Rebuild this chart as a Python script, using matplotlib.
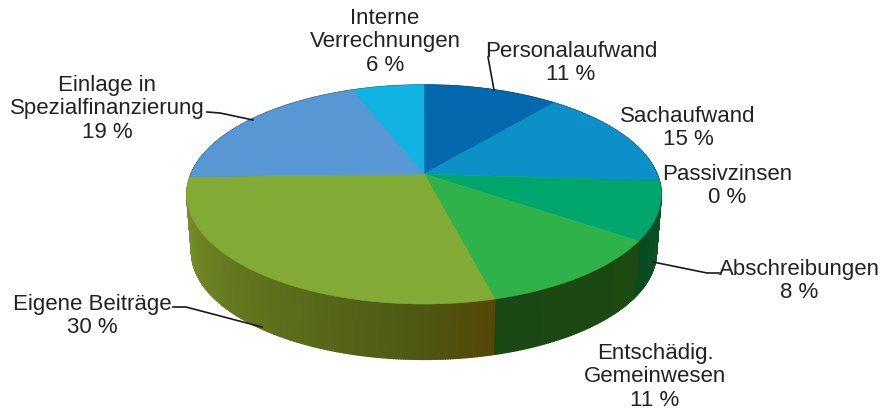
import numpy as np
import matplotlib
matplotlib.use("Agg")
import matplotlib.pyplot as plt
from matplotlib.colors import to_rgb

plt.rcParams['font.family'] = ['Liberation Sans', 'DejaVu Sans']

# data: label text plus the slice shares as they appear in the picture
labels = ["Personalaufwand\n11 %", "Sachaufwand\n15 %", "Passivzinsen\n0 %",
          "Abschreibungen\n8 %", "Entschädig.\nGemeinwesen\n11 %", "Eigene Beiträge\n30 %",
          "Einlage in\nSpezialfinanzierung\n19 %", "Interne\nVerrechnungen\n6 %"]
shares = [11.0, 15.0, 0.0, 8.6, 11.4, 28.6, 19.6, 5.8]
top_colors = ["#0468AE", "#0B90C8", "#00A66B", "#00A66B", "#2FB24A", "#82AA35", "#5797D3", "#10B4E2"]
# side wall colours along each slice, clockwise, with their relative positions
side_stops = [["#03406A", "#03406A"], ["#06506E", "#06506E"], ["#0A5A30", "#0A5A30"],
              ["#0A5A2C", "#0A4A20"], ["#1C4A10", "#1A4812"],
              ["#554708", "#4E5A14", "#62761E", "#7F9A32"],
              ["#2F5A80", "#2F5A80"], ["#0A7090", "#0A7090"]]
side_pos = [[0, 1], [0, 1], [0, 1], [0, 1], [0, 1], [0, 0.16, 0.55, 1], [0, 1], [0, 1]]
label_xy = [(571, 63), (688, 128), (727, 186), (799, 281), (655, 377), (92, 316), (107, 109), (385, 42)]
leaders = [[(488, 58), (494, 91)],
           [(207, 113), (220, 114), (253, 121)],
           [(173, 308), (186, 308), (262, 328)],
           [(653, 263), (707, 274), (719, 274)]]

W, H = 883, 414
CX, CY, A, B, K = 424.0, 175.0, 233.0, 105.7, 0.187
DROP, SHRINK = 58.0, 0.98


def project(theta, scale=1.0, drop=0.0):
    u, v = np.sin(theta), -np.cos(theta)
    w = 1 - K * v
    return CX + scale * A * u / w, CY + drop + scale * B * v / w


fig = plt.figure(figsize=(W / 100, H / 100), dpi=100)
ax = fig.add_axes([0, 0, 1, 1])
ax.set_xlim(0, W)
ax.set_ylim(H, 0)
ax.axis("off")

edges = np.deg2rad(np.cumsum([0] + shares) * 360 / sum(shares))

# side wall strips, back to front
strips = []
for i in range(len(shares)):
    n = max(2, int(np.degrees(edges[i + 1] - edges[i]) * 2))
    t = np.linspace(edges[i], edges[i + 1], n + 1)
    stops = np.array([to_rgb(c) for c in side_stops[i]])
    for j in range(n):
        f = j / max(n - 1, 1)
        c = [np.interp(f, side_pos[i], stops[:, k]) for k in range(3)]
        strips.append((t[j], t[j + 1], c))
strips.sort(key=lambda s: -np.cos((s[0] + s[1]) / 2))
for t0, t1, c in strips:
    tt = np.array([t0, t1])
    x1, y1 = project(tt)
    x2, y2 = project(tt[::-1], SHRINK, DROP)
    ax.fill(np.r_[x1, x2], np.r_[y1, y2], color=c, lw=1.0, zorder=2)

# top face
for i in range(len(shares)):
    if shares[i] <= 0:
        continue
    t = np.linspace(edges[i], edges[i + 1], 120)
    x, y = project(t)
    ax.fill(np.r_[CX, x], np.r_[CY, y], color=top_colors[i], lw=0.4, zorder=3)

for pts in leaders:
    xs, ys = zip(*pts)
    ax.plot(xs, ys, color="#1a1a1a", lw=1.2, zorder=4)

for (x, y), s in zip(label_xy, labels):
    ax.text(x, y, s, ha="center", va="center", fontsize=16, color="#222222",
            linespacing=1.18, zorder=5)

fig.savefig("out.png", dpi=100)
